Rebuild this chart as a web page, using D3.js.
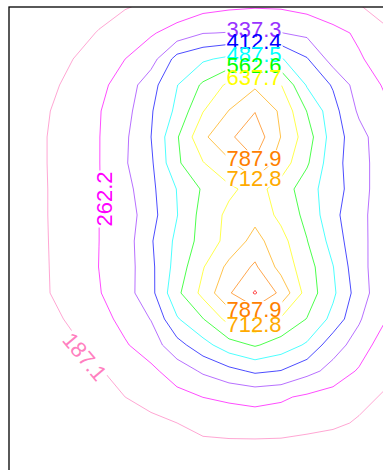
<!DOCTYPE html>
<html><head><meta charset="utf-8">
<script src="https://cdn.jsdelivr.net/npm/d3@7"></script>
<style>html,body{margin:0;padding:0;background:#fff;}svg{display:block;}</style>
</head><body>
<svg id="chart" width="383" height="470"></svg>
<script>
// ---- data ----
const levels = [187.1, 262.2, 337.3, 412.4, 487.5, 562.6, 637.7, 712.8, 787.9, 863.0];
const gridCols = 17;   // grid x index 0..16
const gridRows = 20;   // grid y index 0..19
const zValues = [
  [103,113,123,133,145,158,175,195,213,227,233,230,215,190,165,145,130],
  [128,138,148,158,170,183,200,220,238,252,258,255,240,215,190,170,155],
  [130,142,155,170,190,222,255,290,335,340,347,339,320,285,250,195,175],
  [138,150,165,187,225,262,305,440,476,505,516,495,418,305,270,230,190],
  [140,155,175,200,245,292,385,485,575,655,700,640,480,405,300,255,220],
  [145,160,183,215,258,310,405,505,635,715,785,700,560,440,325,275,240],
  [148,162,187,222,260,325,412,555,698,775,835,711,600,450,365,287,250],
  [148,162,187,222,260,330,400,550,634,700,778,678,573,438,370,290,252],
  [148,162,186,222,260,310,395,490,572,623,665,606,519,445,370,290,252],
  [148,162,186,222,262,294,387,485,590,655,690,618,542,433,356,300,250],
  [148,162,185,222,262,300,405,505,592,662,739,665,565,459,349,315,260],
  [148,162,184,220,263,300,395,518,633,733,800,686,596,490,357,300,255],
  [148,162,183,218,258,305,390,545,660,780,870,770,605,502,374,283,240],
  [140,155,170,197,235,284,340,480,560,665,715,628,560,465,345,268,218],
  [125,140,155,178,215,255,300,385,460,531,570,531,477,365,310,215,185],
  [115,128,142,160,182,212,246,297,348,390,425,410,360,315,253,205,170],
  [105,115,128,145,165,187,212,240,263,275,282,272,250,228,205,180,160],
  [ 95,105,115,128,140,155,170,187,205,220,230,225,215,200,180,165,150],
  [ 85, 95,105,115,125,135,148,160,170,165,160,160,150,148,140,130,120],
  [ 75, 85, 95,105,112,120,128,135,140,140,138,135,130,125,118,110,100]
];
const labelLevels = [337.3, 412.4, 487.5, 562.6, 637.7, 787.9, 712.8, 787.9, 712.8, 262.2, 187.1];
const labelGX     = [9.96, 9.96, 9.96, 9.96, 9.96, 9.96, 9.96, 9.96, 9.96, 4.19, 3.46];
const labelGY     = [1.865, 2.327, 2.808, 3.246, 3.712, 6.82, 7.59, 12.623, 13.2, 8.385, 14.442];
const labelAngle  = [0, 0, 0, 0, 0, 0, 0, 0, 0, -90, 50];

// ---- styles ----
const levelColors = ['#ff80c0','#ff00ff','#9933ff','#0000ff','#00ffff','#00ff00','#ffff00','#ffaa00','#ff8000','#ff0000'];
const W = 383, H = 470;
const plotLeft = 9, plotTop = 7;
const fontSize = 22;

const svg = d3.select('#chart');
svg.append('rect').attr('width', W).attr('height', H).attr('fill', '#fff');

const x = d3.scaleLinear().domain([0, gridCols - 1]).range([-5, 411]);
const y = d3.scaleLinear().domain([0, gridRows - 1]).range([-19, 475]);

const contours = d3.contours()
  .size([gridCols, gridRows])
  .thresholds(levels)(zValues.flat());

const proj = d3.geoTransform({
  point(px, py) { this.stream.point(x(px - 0.5), y(py - 0.5)); }
});
const path = d3.geoPath(proj);

const defs = svg.append('defs');
defs.append('clipPath').attr('id', 'plotClip')
  .append('rect').attr('x', plotLeft).attr('y', plotTop).attr('width', W).attr('height', H);
const mask = defs.append('mask').attr('id', 'labelMask')
  .attr('maskUnits', 'userSpaceOnUse').attr('x', 0).attr('y', 0).attr('width', W).attr('height', H);
mask.append('rect').attr('x', 0).attr('y', 0).attr('width', W).attr('height', H).attr('fill', '#fff');

const lineG = svg.append('g').attr('clip-path', 'url(#plotClip)')
  .append('g').attr('mask', 'url(#labelMask)');

const colorOf = v => levelColors[levels.findIndex(l => Math.abs(l - v) < 1e-6)];

lineG.selectAll('path').data(contours).join('path')
  .attr('d', path)
  .attr('fill', 'none')
  .attr('stroke', d => colorOf(d.value))
  .attr('stroke-opacity', 0.7)
  .attr('stroke-width', 1)
  .attr('stroke-linejoin', 'round');

// labels
const labelG = svg.append('g').attr('clip-path', 'url(#plotClip)');
labelLevels.forEach((lv, i) => {
  const cx = x(labelGX[i]), cy = y(labelGY[i]);
  const g = labelG.append('g').attr('transform', `translate(${cx},${cy}) rotate(${labelAngle[i]})`);
  const t = g.append('text')
    .attr('x', 0).attr('y', fontSize * 0.358)
    .attr('text-anchor', 'middle')
    .attr('font-family', '"Liberation Sans", Arial, sans-serif')
    .attr('font-size', fontSize)
    .attr('fill', colorOf(lv))
    .text(lv.toFixed(1));
  const w = t.node().getComputedTextLength();
  mask.append('rect')
    .attr('transform', `translate(${cx},${cy}) rotate(${labelAngle[i]})`)
    .attr('x', -w / 2 - 1).attr('y', -fontSize * 0.37)
    .attr('width', w + 2).attr('height', fontSize * 0.74)
    .attr('fill', '#000');
});

// frame
svg.append('rect')
  .attr('x', plotLeft).attr('y', plotTop)
  .attr('width', W).attr('height', H)
  .attr('fill', 'none').attr('stroke', '#000').attr('stroke-width', 1.3);
</script>
</body></html>
